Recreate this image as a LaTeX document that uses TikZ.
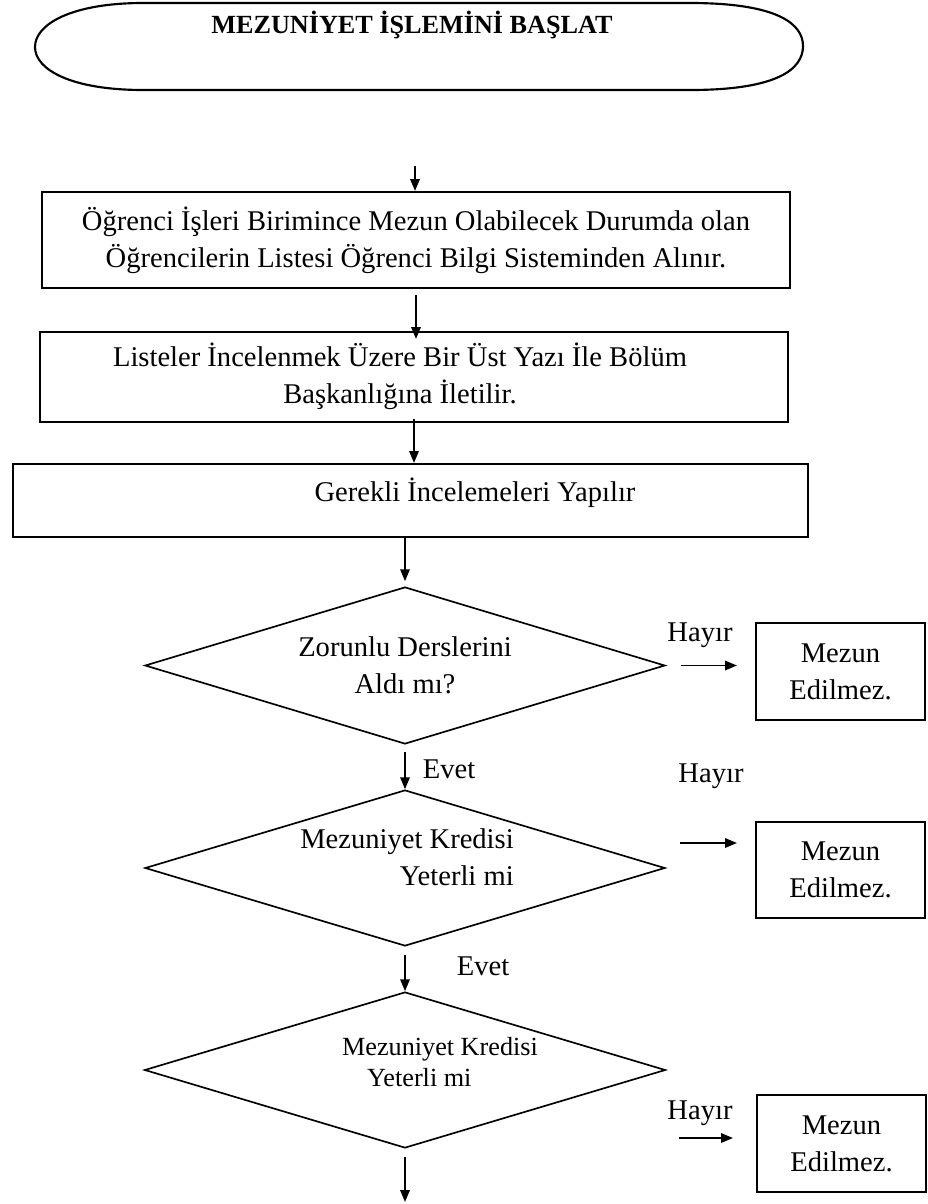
\documentclass[tikz,border=0pt]{standalone}
\usepackage{fontspec}
\setmainfont{Liberation Serif}
\usetikzlibrary{shapes.geometric,arrows.meta}

\def\pu{0.42pt}

\begin{document}
\begin{tikzpicture}[x=0.42pt,y=-0.42pt]
\tikzstyle{every node}=[inner sep=0pt, font=\fontsize{12}{15.5}\selectfont]
\tikzstyle{box}=[draw, line width=0.9pt, rectangle]
\tikzstyle{karar}=[draw, line width=0.7pt, diamond, aspect=3.3]
\tikzstyle{ret}=[box, minimum width=169*\pu, minimum height=97*\pu, align=center]
\tikzstyle{ok}=[line width=0.7pt, -{Triangle[length=5pt,width=4pt]}]
\useasboundingbox (0,0) rectangle (928,1204);
% baslangic
\draw[line width=0.9pt] (143,3) -- (690,3) .. controls (778,3) and (803,24) .. (803,46) .. controls (803,69) and (778,90) .. (690,90) -- (143,90) .. controls (72,90) and (35,70) .. (35,47) .. controls (35,24) and (72,3) .. (143,3) -- cycle;
\node (basla) at (412,25) {\fontsize{11}{13}\selectfont\bfseries MEZUNİYET İŞLEMİNİ BAŞLAT};
\coordinate (s1) at (415,166);
% kutular
\node[box, minimum width=748*\pu, minimum height=96*\pu, align=center] (b1) at (416,240) {Öğrenci İşleri Birimince Mezun Olabilecek Durumda olan\\Öğrencilerin Listesi Öğrenci Bilgi Sisteminden Alınır.};
\node[box, minimum width=748*\pu, minimum height=90*\pu] (b2) at (414,377) {};
\node[align=center] (t2) at (400,376) {Listeler İncelenmek Üzere Bir Üst Yazı İle Bölüm\\Başkanlığına İletilir.};
\node[box, minimum width=795*\pu, minimum height=73*\pu] (b3) at (410.5,500.5) {};
\node (t3) at (475,493) {Gerekli İncelemeleri Yapılır};
% kararlar
\node[karar, minimum width=520*\pu, minimum height=157*\pu, align=center] (d1) at (405,665.5) {Zorunlu Derslerini\\Aldı mı?};
\node[karar, minimum width=520*\pu, minimum height=156*\pu] (d2) at (405,868) {};
\node[align=right] (t4) at (407,857) {Mezuniyet Kredisi\\Yeterli mi};
\node[karar, minimum width=521*\pu, minimum height=156*\pu] (d3) at (405,1070) {};
\node[align=left, font=\fontsize{11}{13}\selectfont] (t5) at (440,1062) {Mezuniyet Kredisi\\\hspace*{10.5pt}Yeterli mi};
\node[ret] (no1) at (840.5,671.5) {Mezun\\Edilmez.};
\node[ret, minimum height=96*\pu] (no2) at (840.5,870) {Mezun\\Edilmez.};
\node[ret] (no3) at (841.5,1143.5) {Mezun\\Edilmez.};
% etiketler
\node (hayir1) at (700,635) {Hayır};
\node (hayir2) at (711,776) {Hayır};
\node (hayir3) at (700,1113) {Hayır};
\node (evet1) at (449,769) {Evet};
\node (evet2) at (483,966) {Evet};
% oklar
\draw[ok] (s1) -- (s1 |- b1.north);
\draw[ok, shorten <=6*\pu, shorten >=-8*\pu] (b1.south) -- (b1.south |- b2.north);
\draw[ok, shorten <=-4*\pu] (b2.south) -- (b2.south |- b3.north);
\draw[ok, shorten >=5*\pu] (d1.north |- b3.south) -- (d1.north);
\draw[ok, shorten <=7*\pu] (d1.south) -- (d2.north);
\draw[ok, shorten <=8*\pu] (d2.south) -- (d3.north);
\coordinate (son) at (405,1202);
\draw[ok, shorten <=8*\pu] (d3.south) -- (son);
\draw[ok, shorten <=15*\pu, shorten >=18*\pu] (d1.east) -- (d1.east -| no1.west);
\coordinate (h2) at (680,843);
\draw[ok, shorten >=18*\pu] (h2) -- (h2 -| no2.west);
\coordinate (h3) at (679,1138);
\draw[ok, shorten >=23*\pu] (h3) -- (h3 -| no3.west);
\end{tikzpicture}
\end{document}
